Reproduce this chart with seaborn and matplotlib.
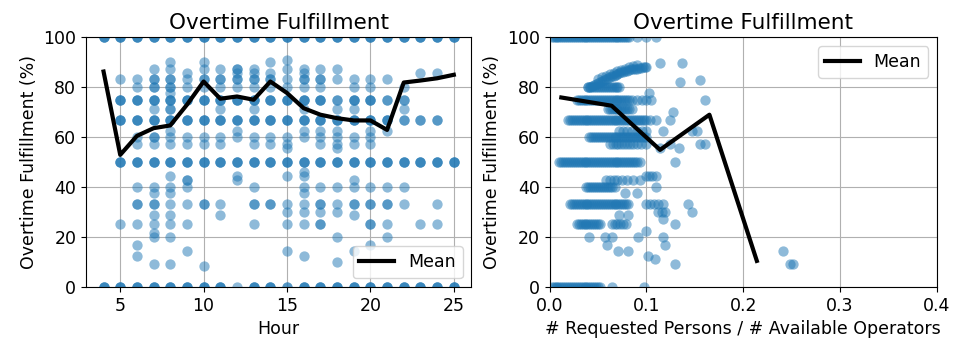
import matplotlib
matplotlib.use("Agg")
import matplotlib.pyplot as plt
import seaborn as sns
import pandas as pd

# ---- Left panel: fulfillment (%) of each overtime request, grouped by hour ----
h04 = [100, 100, 100, 0, 0, 0]
h05 = [100, 100, 100, 83.3, 75, 75, 75, 66.7, 66.7, 66.7, 50, 50, 50, 25, 0, 0, 0]
h06 = [100, 100, 100, 83.3, 80, 75, 75, 75, 66.7, 66.7, 66.7, 60, 57.1, 50, 50, 50,
       40, 33.3, 33.3, 25, 16.7, 12.5, 0, 0, 0]
h07 = [100, 100, 100, 87.5, 83.3, 83.3, 80, 80, 75, 75, 75, 71.4, 66.7, 66.7, 66.7,
       60, 60, 57.1, 50, 50, 50, 40, 37.5, 33.3, 33.3, 28.6, 25, 21.4, 20, 9.1,
       0, 0, 0]
h08 = [100, 100, 100, 90, 87.5, 83.3, 83.3, 80, 80, 77.8, 75, 75, 75, 71.4, 71.4,
       66.7, 66.7, 66.7, 62.5, 60, 57.1, 50, 50, 50, 44.4, 40, 37.5, 33.3, 28.6, 25,
       20, 9.1, 0, 0, 0]
h09 = [100, 100, 100, 85.7, 83.3, 80, 75, 75, 75, 66.7, 66.7, 66.7, 60, 57.1, 50,
       50, 50, 42.9, 42.9, 40, 33.3, 25, 14.3, 0, 0, 0]
h10 = [100, 100, 100, 90, 87.5, 83.3, 83.3, 80, 75, 75, 75, 66.7, 66.7, 66.7, 60,
       57.1, 50, 50, 50, 33.3, 33.3, 8.3, 0, 0, 0]
h11 = [100, 100, 100, 87.5, 83.3, 83.3, 80, 75, 75, 75, 71.4, 66.7, 66.7, 66.7, 60,
       57.1, 50, 50, 50, 33.3, 28.6, 0, 0, 0]
h12 = [100, 100, 100, 87.5, 87.5, 85.7, 83.3, 83.3, 80, 75, 75, 75, 66.7, 66.7,
       66.7, 62.5, 60, 50, 50, 50, 44.4, 42.9, 0]
h13 = [100, 100, 100, 87.5, 85.7, 83.3, 83.3, 80, 75, 75, 75, 71.4, 66.7, 66.7,
       66.7, 60, 57.1, 50, 50, 50, 40, 33.3, 33.3, 25, 0, 0, 0]
h14 = [100, 100, 100, 90, 85.7, 83.3, 83.3, 80, 75, 75, 75, 66.7, 66.7, 66.7, 60,
       57.1, 50, 50, 50, 33.3, 33.3, 0, 0, 0]
h15 = [100, 100, 100, 90.9, 87.5, 83.3, 80, 75, 75, 75, 66.7, 66.7, 66.7, 60, 57.1,
       55.6, 50, 50, 50, 44.4, 33.3, 30, 25, 14.3, 0, 0]
h16 = [100, 100, 100, 87.5, 85.7, 83.3, 83.3, 80, 75, 75, 75, 71.4, 66.7, 66.7,
       66.7, 62.5, 60, 50, 50, 50, 46.2, 44.4, 40, 37.5, 33.3, 30, 25, 12.5,
       0, 0, 0]
h17 = [100, 100, 100, 87.5, 83.3, 83.3, 80, 75, 75, 75, 66.7, 66.7, 66.7, 62.5, 60,
       57.1, 50, 50, 50, 40, 33.3, 33.3, 30, 25, 25, 0, 0, 0]
h18 = [100, 100, 100, 87.5, 83.3, 75, 75, 71.4, 66.7, 66.7, 66.7, 62.5, 60, 57.1,
       55.6, 50, 50, 50, 40, 33.3, 30, 20, 10, 0, 0, 0]
h19 = [100, 100, 100, 83.3, 80, 75, 75, 75, 71.4, 66.7, 66.7, 66.7, 60, 57.1, 50,
       50, 50, 42.9, 40, 33.3, 33.3, 28.6, 14.3, 0, 0, 0]
h20 = [100, 100, 100, 83.3, 80, 75, 75, 75, 66.7, 66.7, 66.7, 62.5, 60, 57.1, 50,
       50, 50, 40, 33.3, 33.3, 25, 25, 16.7, 0, 0, 0]
h21 = [100, 100, 100, 83.3, 75, 75, 66.7, 66.7, 66.7, 62.5, 50, 50, 50, 40, 33.3,
       33.3, 25, 20, 0, 0, 0]
h22 = [100, 100, 100, 80, 75, 75, 71.4, 66.7, 66.7, 50, 50, 50, 40, 33.3, 0, 0, 0]
h23 = [100, 100, 100, 85.7, 66.7, 66.7, 50, 50, 50, 25, 0, 0, 0]
h24 = [100, 100, 100, 85.7, 66.7, 66.7, 50, 50, 50, 33.3, 25, 0, 0, 0]
h25 = [100, 100, 100, 50, 50, 50, 0, 0, 0]

hours = list(range(4, 26))
per_hour = [h04, h05, h06, h07, h08, h09, h10, h11, h12, h13, h14,
            h15, h16, h17, h18, h19, h20, h21, h22, h23, h24, h25]

# mean fulfillment per hour
mean_hour_pct = [86.3, 52.9, 60.5, 63.6, 64.7, 73.0, 82.3, 75.4, 76.3, 75.0, 82.3,
                 77.7, 71.6, 69.0, 67.6, 66.7, 66.7, 62.9, 81.9, 82.7, 83.6, 85.0]

# ---- Right panel: fulfillment vs. requested / available ratio ----
r_100 = [0.002, 0.004, 0.006, 0.008, 0.010, 0.012, 0.014, 0.016, 0.018, 0.020,
         0.022, 0.024, 0.026, 0.028, 0.030, 0.032, 0.034, 0.036, 0.038, 0.040,
         0.042, 0.044, 0.046, 0.048, 0.050, 0.052, 0.054, 0.056, 0.058, 0.060,
         0.062, 0.064, 0.066, 0.068, 0.070, 0.072, 0.074, 0.076, 0.078, 0.080,
         0.082, 0.090, 0.100, 0.110]
band_ratio = [0.040, 0.042, 0.044, 0.046, 0.048, 0.050, 0.052, 0.054, 0.056, 0.058,
              0.060, 0.062, 0.064, 0.066, 0.068, 0.070, 0.072, 0.074, 0.076, 0.078,
              0.080, 0.082, 0.084, 0.086, 0.088, 0.090, 0.092, 0.094, 0.096, 0.098,
              0.100, 0.050, 0.054, 0.058, 0.062, 0.066, 0.070, 0.074, 0.078, 0.082,
              0.086, 0.090, 0.114, 0.137, 0.135, 0.155, 0.103]
band_pct = [80.0, 80.3, 80.6, 81.0, 81.4, 81.8, 82.2, 82.6, 83.0, 83.3,
            83.7, 84.0, 84.4, 84.6, 85.0, 85.4, 85.7, 86.0, 86.2, 86.4,
            86.7, 87.0, 87.2, 87.5, 87.5, 87.5, 87.8, 87.8, 88.0, 88.0,
            88.2, 83.3, 84.0, 84.6, 85.2, 85.7, 86.4, 87.0, 87.5, 88.0,
            88.4, 88.9, 89.7, 89.7, 82.3, 83.0, 77.8]
r_80 = [0.040, 0.042, 0.044, 0.046, 0.048, 0.050, 0.052, 0.054, 0.056, 0.058,
        0.060, 0.062, 0.064, 0.066, 0.068, 0.070, 0.072]
r_75 = [0.028, 0.030, 0.032, 0.034, 0.036, 0.038, 0.040, 0.042, 0.044, 0.046,
        0.048, 0.050, 0.052, 0.054, 0.056, 0.058, 0.060, 0.062, 0.064, 0.066,
        0.068, 0.070, 0.072, 0.074, 0.076, 0.078, 0.080, 0.082, 0.085, 0.090,
        0.095, 0.100, 0.105, 0.160]
r_714 = [0.060, 0.062, 0.064, 0.066, 0.068, 0.070, 0.072, 0.074, 0.076, 0.078,
         0.080, 0.082, 0.085]
r_70 = [0.127]
r_667 = [0.019, 0.021, 0.023, 0.025, 0.027, 0.029, 0.031, 0.033, 0.035, 0.037,
         0.039, 0.041, 0.043, 0.045, 0.047, 0.049, 0.051, 0.053, 0.055, 0.057,
         0.059, 0.061, 0.063, 0.065, 0.067, 0.069, 0.071, 0.073, 0.075, 0.077,
         0.079, 0.081, 0.083, 0.085, 0.087, 0.089, 0.091, 0.093, 0.095, 0.097,
         0.100, 0.104, 0.110, 0.124]
r_625 = [0.072, 0.076, 0.080, 0.085, 0.090, 0.095, 0.100, 0.117, 0.147, 0.152]
r_60 = [0.041, 0.043, 0.045, 0.047, 0.049, 0.051, 0.053, 0.055, 0.057, 0.059,
        0.061, 0.063, 0.065, 0.067, 0.069, 0.071, 0.073, 0.075, 0.077, 0.079,
        0.081, 0.083, 0.085, 0.087, 0.089, 0.091, 0.093, 0.095, 0.097, 0.100]
r_571 = [0.062, 0.065, 0.068, 0.071, 0.074, 0.077, 0.080, 0.083, 0.086, 0.090,
         0.094, 0.100, 0.124, 0.155, 0.160]
r_556 = [0.134, 0.114]
r_50 = [0.010, 0.012, 0.014, 0.016, 0.018, 0.020, 0.022, 0.024, 0.026, 0.028,
        0.030, 0.032, 0.034, 0.036, 0.038, 0.040, 0.042, 0.044, 0.046, 0.048,
        0.050, 0.052, 0.054, 0.056, 0.058, 0.060, 0.062, 0.064, 0.066, 0.068,
        0.070, 0.072, 0.074, 0.076, 0.078, 0.080, 0.082, 0.084, 0.086, 0.088,
        0.090, 0.093, 0.129]
r_444 = [0.100, 0.103, 0.106, 0.110]
r_429 = [0.058, 0.062, 0.066, 0.070, 0.075, 0.080, 0.086, 0.093]
r_40 = [0.038, 0.040, 0.042, 0.044, 0.046, 0.048, 0.050, 0.052, 0.054, 0.056,
        0.058, 0.060, 0.062, 0.064, 0.067, 0.110]
r_375 = [0.078, 0.090]
r_333 = [0.021, 0.023, 0.025, 0.027, 0.029, 0.031, 0.033, 0.035, 0.037, 0.039,
         0.041, 0.043, 0.045, 0.047, 0.049, 0.051, 0.053, 0.055, 0.057, 0.059,
         0.061, 0.063, 0.065, 0.067, 0.069, 0.071, 0.073, 0.075, 0.077, 0.079,
         0.081, 0.100, 0.104, 0.108, 0.112, 0.117, 0.143]
r_30 = [0.112, 0.116, 0.119, 0.147]
r_286 = [0.072, 0.081]
r_27 = [0.117]
r_25 = [0.028, 0.030, 0.032, 0.034, 0.036, 0.038, 0.040, 0.042, 0.044, 0.046,
        0.048, 0.050, 0.052, 0.064, 0.067, 0.070, 0.073, 0.076, 0.079, 0.129]
r_222 = [0.100]
r_20 = [0.041, 0.057, 0.064, 0.091, 0.117]
r_167 = [0.059, 0.119]
r_143 = [0.071, 0.081, 0.241]
r_125 = [0.102]
r_111 = [0.109]
r_91 = [0.129, 0.248, 0.251]
r_0 = [0.002, 0.004, 0.006, 0.008, 0.010, 0.012, 0.014, 0.016, 0.018, 0.020,
       0.022, 0.024, 0.026, 0.028, 0.030, 0.032, 0.034, 0.036, 0.038, 0.040,
       0.042, 0.044, 0.046, 0.048, 0.050, 0.052, 0.064, 0.097]

ratio_levels = [(100, r_100), (80, r_80), (75, r_75), (71.4, r_714), (70, r_70),
                (66.7, r_667), (62.5, r_625), (60, r_60), (57.1, r_571),
                (55.6, r_556), (50, r_50), (44.4, r_444), (42.9, r_429),
                (40, r_40), (37.5, r_375), (33.3, r_333), (30, r_30),
                (28.6, r_286), (27, r_27), (25, r_25), (22.2, r_222), (20, r_20),
                (16.7, r_167), (14.3, r_143), (12.5, r_125), (11.1, r_111),
                (9.1, r_91), (0, r_0)]

# mean fulfillment in ratio bins
mean_ratio = [0.012, 0.064, 0.114, 0.165, 0.214]
mean_ratio_pct = [75.9, 72.6, 54.9, 69.0, 10.4]

# ---- assemble tables ----
left = pd.DataFrame({
    "Hour": [h for h, vals in zip(hours, per_hour) for _ in vals],
    "pct": [v for vals in per_hour for v in vals],
})
right_x = [x for _, xs in ratio_levels for x in xs] + band_ratio
right_y = [lvl for lvl, xs in ratio_levels for _ in xs] + band_pct
right = pd.DataFrame({"ratio": right_x, "pct": right_y})
left_mean = pd.DataFrame({"Hour": hours, "pct": mean_hour_pct})
right_mean = pd.DataFrame({"ratio": mean_ratio, "pct": mean_ratio_pct})

blue = "#1f77b4"
fig = plt.figure(figsize=(9.56, 3.46), dpi=100)
ax1 = fig.add_axes([0.090, 0.171, 0.403, 0.721])
ax2 = fig.add_axes([0.575, 0.171, 0.405, 0.721])

for ax in (ax1, ax2):
    ax.set_axisbelow(True)
    ax.grid(True, color="#b0b0b0", linewidth=0.8)

sns.scatterplot(data=left, x="Hour", y="pct", ax=ax1, color=blue, alpha=0.5,
                s=55, linewidth=0)
sns.lineplot(data=left_mean, x="Hour", y="pct", ax=ax1, color="black",
             linewidth=3, label="Mean")
ax1.set_ylim(0, 100)
ax1.set_xticks([5, 10, 15, 20, 25])
ax1.set_yticks([0, 20, 40, 60, 80, 100])
ax1.set_title("Overtime Fulfillment", fontsize=15.5)
ax1.set_xlabel("Hour", fontsize=12.5)
ax1.set_ylabel("Overtime Fulfillment (%)", fontsize=12.5)
ax1.legend(loc="lower right", fontsize=12.5)

sns.scatterplot(data=right, x="ratio", y="pct", ax=ax2, color=blue, alpha=0.5,
                s=55, linewidth=0)
sns.lineplot(data=right_mean, x="ratio", y="pct", ax=ax2, color="black",
             linewidth=3, label="Mean")
ax2.set_xlim(0, 0.4)
ax2.set_ylim(0, 100)
ax2.set_xticks([0.0, 0.1, 0.2, 0.3, 0.4])
ax2.set_yticks([0, 20, 40, 60, 80, 100])
ax2.set_title("Overtime Fulfillment", fontsize=15.5)
ax2.set_xlabel("# Requested Persons / # Available Operators", fontsize=12.5)
ax2.set_ylabel("Overtime Fulfillment (%)", fontsize=12.5)
ax2.legend(loc="upper right", fontsize=12.5)

for ax in (ax1, ax2):
    ax.tick_params(labelsize=12.5)

fig.savefig("out.png", dpi=100)
